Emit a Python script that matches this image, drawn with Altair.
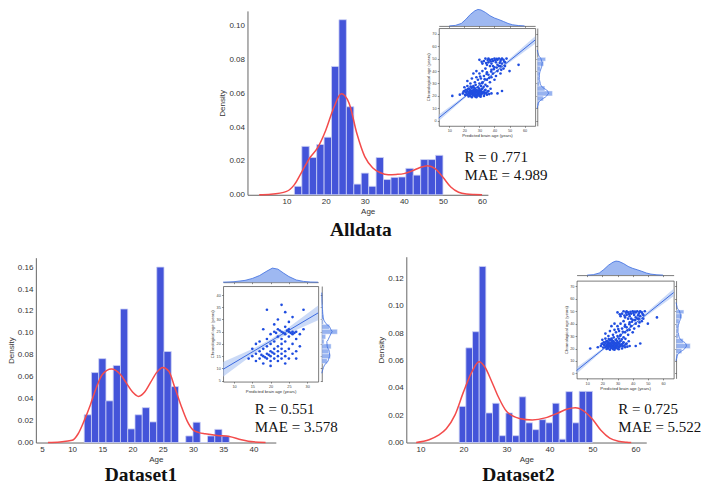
import altair as alt
import numpy as np
import pandas as pd

# ---------------- values ----------------
panel_titles = ["Alldata", "Dataset1", "Dataset2"]
r_labels = ["R = 0 .771", "R = 0.551", "R = 0.725"]
mae_labels = ["MAE = 4.989", "MAE = 3.578", "MAE = 5.522"]

# age histograms: 20 equal bins between the two edges (density values)
alldata_edges = [12.0, 50.0]
alldata_hist = [0.005, 0.0286, 0.022, 0.0297, 0.034, 0.0758, 0.1034, 0.052, 0.0063, 0.0128,
                0.005, 0.022, 0.009, 0.0103, 0.0105, 0.0156, 0.0116, 0.0208, 0.0208, 0.0233]
alldata_kde_age = [3, 6, 10, 12, 14, 16, 18, 20, 22, 24, 26, 28, 30, 32, 34, 36, 38, 40,
                   42, 44, 46, 48, 50, 52, 54, 56, 58, 60]
alldata_kde_den = [0, 0.0003, 0.002, 0.006, 0.014, 0.022, 0.028, 0.038, 0.051, 0.0596, 0.054,
                   0.036, 0.0225, 0.016, 0.013, 0.0118, 0.012, 0.0125, 0.014, 0.016, 0.0172,
                   0.0155, 0.0103, 0.0046, 0.0015, 0.0004, 0.0001, 0]

d1_edges = [12.0, 36.0]
d1_hist = [0.0253, 0.0638, 0.0765, 0.038, 0.0703, 0.1218, 0.0124, 0.0253, 0.0318, 0.0188,
           0.160, 0.083, 0.051, 0.0, 0.006, 0.0185, 0.0, 0.006, 0.012, 0.006]
d1_kde_age = [6, 8, 10, 11, 12, 13, 14, 15, 16.5, 18, 19, 20, 21, 22, 23, 24, 25, 26, 27, 28,
              29, 30, 31, 32, 34, 36, 38, 40, 42]
d1_kde_den = [0, 0.0005, 0.002, 0.008, 0.02, 0.034, 0.05, 0.062, 0.067, 0.062, 0.054, 0.046,
              0.042, 0.046, 0.055, 0.064, 0.0685, 0.065, 0.05, 0.034, 0.02, 0.0115, 0.009,
              0.008, 0.0065, 0.0055, 0.0026, 0.0006, 0]

d2_edges = [19.0, 50.0]
d2_hist = [0.0264, 0.0692, 0.081, 0.1287, 0.0216, 0.0287, 0.005, 0.0216, 0.005, 0.0334,
           0.0144, 0.0094, 0.0167, 0.0144, 0.0287, 0.0024, 0.0372, 0.0144, 0.0374, 0.0374]
d2_kde_age = [9, 12, 14, 16, 18, 20, 22, 23.6, 25, 26.5, 28, 30, 33, 36, 39, 42, 44, 46, 48,
              50, 52, 54, 56, 58, 59]
d2_kde_den = [0, 0.002, 0.005, 0.01, 0.02, 0.037, 0.052, 0.059, 0.055, 0.045, 0.034, 0.0228,
              0.0176, 0.0165, 0.018, 0.0216, 0.0243, 0.0254, 0.023, 0.017, 0.0087, 0.0032,
              0.001, 0.0002, 0]

# inset scatter shared by Alldata and Dataset2 (predicted vs chronological age)
all_pred = [12, 17, 19, 20, 21, 21, 22, 22, 23, 23, 24, 24, 24, 25, 25, 25, 25, 26, 26, 26,
            27, 27, 27, 27, 28, 28, 28, 28, 29, 29, 29, 30, 30, 30, 31, 31, 32, 32, 33, 33,
            34, 35, 36, 38, 42, 45, 20, 22, 26, 31,
            21.5, 22.5, 23.5, 23.8, 24.5, 24.8, 25.5, 25.8, 26.5, 26.7, 27.5, 27.7, 28.4, 28.6,
            29.3, 29.5, 30.4, 30.6, 31.4, 31.6, 32.5, 33.4, 33.7, 34.5, 35.5, 36.5, 37.4, 20.5,
            19.5, 23.2, 26.2, 29.8, 32.8, 35.2, 22.8, 27.2, 30.8, 24.2,
            22, 24, 25, 27, 28, 29, 30, 30, 31, 32, 32, 33, 34, 34, 35, 35, 36, 37, 37, 38,
            38, 39, 40, 40, 41, 42, 43, 44, 46, 50, 28, 26,
            33.5, 36.5, 39.5, 41.5, 44.5, 30.5, 34.8, 37.8, 27.5, 31.8,
            30, 32, 33, 34, 35, 36, 36, 37, 38, 39, 40, 41, 42, 42, 43, 44, 45, 45, 46, 47,
            48, 44, 39, 56, 47, 31.5, 34.5, 37.5, 40.5, 43.5, 46.5, 38.5, 41.5, 35.5, 44.5]
all_chrono = [20, 21, 22, 24, 23, 25, 21, 24, 22, 26, 20, 23, 25, 19, 22, 24, 27, 21, 23, 25,
              20, 22, 24, 26, 19, 21, 23, 25, 22, 24, 27, 20, 23, 25, 21, 24, 22, 26, 20, 23,
              25, 21, 24, 22, 22, 24, 27, 28, 28, 28,
              22.5, 25.5, 20.5, 24.2, 21.5, 26.5, 23.3, 20.4, 22.2, 24.6, 21.3, 23.5, 24.4, 20.2,
              21.2, 23.2, 21.6, 24.4, 22.6, 25.6, 23.4, 21.7, 24.5, 22.4, 23.5, 21.5, 25.8, 20.8,
              23.6, 23.1, 26.8, 26.0, 27.3, 27.8, 19.6, 19.5, 19.4, 27.6,
              32, 30, 34, 31, 35, 33, 30, 38, 34, 31, 40, 36, 29, 42, 33, 39, 37, 31, 44, 35,
              41, 38, 33, 43, 36, 40, 44, 38, 42, 40, 40, 38,
              33.5, 34.5, 41.5, 42.8, 41.0, 35.6, 37.6, 39.6, 28.9, 30.2,
              49, 46, 48, 50, 45, 47, 50, 49, 46, 48, 50, 47, 49, 45, 50, 48, 46, 50, 49, 47,
              50, 44, 44, 45, 44, 47.5, 46.5, 47.8, 48.6, 46.6, 47.7, 49.5, 49.8, 48.8, 49.3]
all_fit_x = [3, 67]
all_fit_y = [2.3, 65.0]
all_band_x = [3, 20, 30, 40, 50, 67]
all_band_lo = [-0.2, 18.0, 28.2, 37.8, 46.9, 62.0]
all_band_hi = [4.8, 20.0, 29.4, 39.4, 49.9, 68.0]
all_top_pred = [10, 14, 18, 21, 24, 27, 29, 31, 34, 37, 40, 43, 46, 49, 52, 56, 60]
all_top_den = [0, 0.03, 0.15, 0.4, 0.7, 0.92, 1.0, 0.97, 0.82, 0.62, 0.48, 0.38, 0.27, 0.15,
               0.07, 0.02, 0]
all_right_lo = [12, 16, 20, 24, 28, 32, 36, 40, 44, 48]
all_right_hi = [16, 20, 24, 28, 32, 36, 40, 44, 48, 51]
all_right_h = [0.12, 0.4, 1.0, 0.5, 0.15, 0.12, 0.14, 0.22, 0.42, 0.55]
all_right_kde_age = [10, 14, 17, 20, 22, 24, 26, 29, 33, 37, 41, 44, 47, 50, 53, 57]
all_right_kde_den = [0, 0.06, 0.28, 0.62, 0.75, 0.68, 0.45, 0.22, 0.13, 0.14, 0.22, 0.3, 0.33,
                     0.24, 0.08, 0]

# inset scatter of Dataset1
d1_pred = [14, 15, 16, 16, 17, 17, 17, 18, 18, 18, 19, 19, 19, 19, 20, 20, 20, 20, 20, 21,
           21, 21, 21, 21, 22, 22, 22, 22, 22, 22, 23, 23, 23, 23, 23, 23, 24, 24, 24, 24,
           24, 25, 25, 25, 25, 25, 26, 26, 26, 26, 27, 27, 27, 28, 28, 29, 18, 19, 23, 24,
           22, 21, 26, 29, 25, 16, 15, 27, 20, 24, 21.5, 22.5, 23.5, 24.5, 25.5, 20.5, 19.5,
           18.5, 26.5, 17.5]
d1_chrono = [14, 15, 13, 16, 14, 17, 21, 12, 15, 18, 14, 16, 19, 22, 13, 15, 17, 20, 24, 14,
             16, 18, 21, 25, 13, 15, 17, 19, 23, 26, 14, 16, 18, 20, 22, 25, 15, 17, 21, 24,
             27, 14, 18, 23, 25, 26, 16, 20, 24, 25, 17, 22, 25, 19, 24, 26, 26, 34, 36, 33,
             30, 28, 31, 34, 29, 20, 18, 14, 11, 12, 24.5, 25.5, 24.5, 25.5, 24.5, 16.5, 15.5,
             14.5, 24.5, 15.5]
d1_fit_x = [7, 33]
d1_fit_y = [9.6, 32.7]
d1_band_x = [7, 15, 20, 25, 33]
d1_band_lo = [6.6, 15.5, 20.3, 24.4, 29.7]
d1_band_hi = [12.6, 17.9, 21.9, 26.8, 35.7]
d1_top_pred = [7, 10, 13, 15, 17, 19, 20.5, 22, 23.5, 25, 27, 29, 31, 33]
d1_top_den = [0, 0.03, 0.12, 0.25, 0.45, 0.75, 0.95, 0.88, 0.62, 0.38, 0.15, 0.05, 0.01, 0]
d1_right_lo = [12, 14, 16, 18, 20, 22, 24, 26, 28, 30, 32, 34]
d1_right_hi = [14, 16, 18, 20, 22, 24, 26, 28, 30, 32, 34, 36]
d1_right_h = [0.35, 0.55, 0.45, 0.6, 0.15, 0.25, 1.0, 0.5, 0.1, 0.12, 0.08, 0.06]
d1_right_kde_age = [8, 11, 13, 15, 17, 19, 21, 23, 25, 27, 29, 31, 34, 38, 41]
d1_right_kde_den = [0, 0.15, 0.4, 0.52, 0.48, 0.35, 0.32, 0.5, 0.68, 0.5, 0.2, 0.08, 0.05,
                    0.01, 0]

# ---------------- layout (reference pixels, scaled to the canvas) ----------------
W, H = 693, 480
SX, SY = W / 709, H / 496

BAR = "#4454d9"
BAR_EDGE = "#cdd2f5"
RED = "#f34b4b"
PT = "#1f4de0"
FIT = "#2b5ddf"
BAND = "#a9c2f2"
MFILL = "#86a6ee"
MLINE = "#3b6ce0"

MAIN = dict(ticks=False, grid=False, domainColor="#666", domainWidth=1, labelColor="#333",
            labelFont="Liberation Sans", labelFontSize=8, labelPadding=3,
            titleFont="Liberation Sans", titleFontSize=8, titleFontWeight="normal",
            titleColor="#333", titlePadding=2)
ILINE = dict(grid=False, domainColor="#444", domainWidth=0.7)
ITICK = dict(ILINE, tickColor="#444", tickSize=1.5, tickWidth=0.6)
IFULL = dict(ITICK, labelFontSize=3.8, labelColor="#444", labelFont="Liberation Sans",
             labelPadding=1.2, titleFontSize=4.2, titleFont="Liberation Sans",
             titleFontWeight="normal", titleColor="#333", titlePadding=1.5)


def xsc(dom, a, b):
    return alt.Scale(domain=dom, range=[a * SX, b * SX], nice=False, zero=False)


def ysc(dom, bottom, top):
    return alt.Scale(domain=dom, range=[bottom * SY, top * SY], nice=False, zero=False)


def bottom_axis(y, **kw):
    return alt.Axis(orient="bottom", offset=y * SY - H, **kw)


def left_axis(x, **kw):
    return alt.Axis(orient="left", offset=-x * SX, **kw)


def top_axis(y, **kw):
    return alt.Axis(orient="top", offset=-y * SY, **kw)


def right_axis(x, **kw):
    return alt.Axis(orient="right", offset=x * SX - W, **kw)


def text_layer(txt, x, y, xs, ys, size, weight="normal", align="left"):
    return alt.Chart(pd.DataFrame({"t": [txt]})).mark_text(
        align=align, baseline="alphabetic", font="Liberation Serif", fontSize=size,
        fontWeight=weight, color="#111"
    ).encode(
        x=alt.XDatum(x, type="quantitative", scale=xs, axis=None),
        y=alt.YDatum(y, type="quantitative", scale=ys, axis=None),
        text="t:N",
    )


def hist_panel(g, edges, hist, kx, ky, i):
    xs = xsc(g["xdom"], *g["xr"])
    ys = ysc(g["ydom"], *g["yr"])
    e = np.linspace(edges[0], edges[1], len(hist) + 1)
    df = pd.DataFrame({"lo": e[:-1], "hi": e[1:], "d": hist, "base": 0.0})
    bars = alt.Chart(df).mark_rect(fill=BAR, stroke=BAR_EDGE, strokeWidth=0.8).encode(
        x=alt.X("lo:Q", scale=xs,
                axis=bottom_axis(g["yr"][0], values=g["xticks"], title="Age", **MAIN)),
        x2="hi:Q",
        y=alt.Y("d:Q", scale=ys,
                axis=left_axis(g["xr"][0], values=g["yticks"], format=".2f",
                               title="Density", **MAIN)),
        y2="base:Q",
    )
    kde = alt.Chart(pd.DataFrame({"a": kx, "d": ky})).mark_line(
        color=RED, strokeWidth=1.5, interpolate="monotone"
    ).encode(x=alt.X("a:Q", scale=xs, axis=None), y=alt.Y("d:Q", scale=ys, axis=None))
    rt = text_layer(r_labels[i], g["tx"], g["ry"], xs, ys, 15)
    mt = text_layer(mae_labels[i], g["tx"], g["my"], xs, ys, 15)
    tt = text_layer(panel_titles[i], g["ttx"], g["tty"], xs, ys, 19.5, "bold", "center")
    return [bars, kde, rt, mt, tt]


def inset(g, pred, chrono, fx, fy, bx, blo, bhi, tp, td, rlo, rhi, rh, rka, rkd):
    xs = xsc(g["xdom"], *g["xr"])
    ys = ysc(g["ydom"], *g["yr"])
    band = alt.Chart(pd.DataFrame({"x": bx, "lo": blo, "hi": bhi})).mark_area(
        color=BAND, opacity=0.6
    ).encode(
        x=alt.X("x:Q", scale=xs, axis=top_axis(g["yr"][1], labels=False, ticks=False,
                                                title=None, **ILINE)),
        y=alt.Y("lo:Q", scale=ys, axis=right_axis(g["xr"][1], labels=False, ticks=False,
                                                   title=None, **ILINE)),
        y2="hi:Q",
    )
    fit = alt.Chart(pd.DataFrame({"x": fx, "y": fy})).mark_line(
        color=FIT, strokeWidth=0.9
    ).encode(x=alt.X("x:Q", scale=xs, axis=None), y=alt.Y("y:Q", scale=ys, axis=None))
    pts = alt.Chart(pd.DataFrame({"p": pred, "c": chrono})).mark_circle(
        size=7, color=PT, opacity=1
    ).encode(
        x=alt.X("p:Q", scale=xs, axis=bottom_axis(g["yr"][0], values=g["xticks"],
                                                   title="Predicted brain age (years)",
                                                   **IFULL)),
        y=alt.Y("c:Q", scale=ys, axis=left_axis(g["xr"][0], values=g["yticks"],
                                                 title="Chronological age (years)",
                                                 **IFULL)),
    )
    tys = ysc([0, 1.0], *g["top"])
    tdf = pd.DataFrame({"x": tp, "d": td})
    top_area = alt.Chart(tdf).mark_area(color=MFILL, opacity=0.8).encode(
        x=alt.X("x:Q", scale=xs, axis=bottom_axis(g["top"][0], values=g["xticks"],
                                                   labels=False, title=None, **ITICK)),
        y=alt.Y("d:Q", scale=tys, axis=None),
    )
    top_line = alt.Chart(tdf).mark_line(color=MLINE, strokeWidth=0.8).encode(
        x=alt.X("x:Q", scale=xs, axis=None), y=alt.Y("d:Q", scale=tys, axis=None)
    )
    rxs = xsc([0, 1.0], *g["right"])
    rbars = alt.Chart(pd.DataFrame({"lo": rlo, "hi": rhi, "h": rh, "base": 0.0})).mark_rect(
        fill=MFILL, opacity=0.85, stroke="white", strokeWidth=0.4
    ).encode(
        y=alt.Y("lo:Q", scale=ys, axis=left_axis(g["right"][0], values=g["yticks"],
                                                  labels=False, title=None, **ITICK)),
        y2="hi:Q",
        x=alt.X("base:Q", scale=rxs, axis=None),
        x2="h:Q",
    )
    rline = alt.Chart(pd.DataFrame({"a": rka, "d": rkd})).mark_line(
        color=MLINE, strokeWidth=0.8, interpolate="monotone"
    ).encode(
        x=alt.X("d:Q", scale=rxs, axis=None),
        y=alt.Y("a:Q", scale=ys, axis=None),
        order="a:Q",
    )
    return [band, fit, pts, top_area, top_line, rbars, rline]


G_ALL = dict(xdom=[0, 61.5], xr=(245, 491), ydom=[0, 0.1086], yr=(193, 3),
             xticks=[10, 20, 30, 40, 50, 60], yticks=[0, 0.02, 0.04, 0.06, 0.08, 0.10],
             tx=55.5, ry=0.0194, my=0.0086, ttx=29.0, tty=-0.0246)
G_D1 = dict(xdom=[4, 43.7], xr=(28.5, 274), ydom=[0, 0.1686], yr=(449, 258),
            xticks=[5, 10, 15, 20, 25, 30, 35, 40],
            yticks=[0, 0.02, 0.04, 0.06, 0.08, 0.10, 0.12, 0.14, 0.16],
            tx=40.2, ry=0.0256, my=0.0097, ttx=21.4, tty=-0.0355)
G_D2 = dict(xdom=[6.7, 62.5], xr=(407.5, 653), ydom=[0, 0.1358], yr=(449, 257),
            xticks=[10, 20, 30, 40, 50, 60], yticks=[0, 0.02, 0.04, 0.06, 0.08, 0.10, 0.12],
            tx=56.0, ry=0.0205, my=0.0078, ttx=32.8, tty=-0.0284)

I_ALL = dict(xdom=[3, 67], xr=(440.7, 539.3), ydom=[-4, 74.6], yr=(121.7, 20.7),
             xticks=[10, 20, 30, 40, 50, 60], yticks=[0, 10, 20, 30, 40, 50, 60, 70],
             top=(18.5, 1.5), right=(541.5, 557))
I_D1 = dict(xdom=[7, 33], xr=(220, 317.3), ydom=[4.6, 43.7], yr=(386, 287.3),
            xticks=[10, 15, 20, 25, 30], yticks=[5, 10, 15, 20, 25, 30, 35, 40],
            top=(283.3, 268), right=(321, 337))
I_D2 = dict(xdom=[3, 67], xr=(581.7, 681), ydom=[-4, 74.6], yr=(382.7, 281.7),
            xticks=[10, 20, 30, 40, 50, 60], yticks=[0, 10, 20, 30, 40, 50, 60, 70],
            top=(276, 261.5), right=(683.5, 698))

layers = []
layers += hist_panel(G_ALL, alldata_edges, alldata_hist, alldata_kde_age, alldata_kde_den, 0)
layers += hist_panel(G_D1, d1_edges, d1_hist, d1_kde_age, d1_kde_den, 1)
layers += hist_panel(G_D2, d2_edges, d2_hist, d2_kde_age, d2_kde_den, 2)
layers += inset(I_ALL, all_pred, all_chrono, all_fit_x, all_fit_y, all_band_x, all_band_lo,
                all_band_hi, all_top_pred, all_top_den, all_right_lo, all_right_hi,
                all_right_h, all_right_kde_age, all_right_kde_den)
layers += inset(I_D1, d1_pred, d1_chrono, d1_fit_x, d1_fit_y, d1_band_x, d1_band_lo,
                d1_band_hi, d1_top_pred, d1_top_den, d1_right_lo, d1_right_hi,
                d1_right_h, d1_right_kde_age, d1_right_kde_den)
layers += inset(I_D2, all_pred, all_chrono, all_fit_x, all_fit_y, all_band_x, all_band_lo,
                all_band_hi, all_top_pred, all_top_den, all_right_lo, all_right_hi,
                all_right_h, all_right_kde_age, all_right_kde_den)

chart = alt.layer(*layers).resolve_scale(
    x="independent", y="independent"
).properties(
    width=W, height=H, autosize=alt.AutoSizeParams(type="none"), padding=0,
    background="white"
).configure_view(stroke=None)

chart.save("out.html", embed_options={"renderer": "svg", "actions": False})
